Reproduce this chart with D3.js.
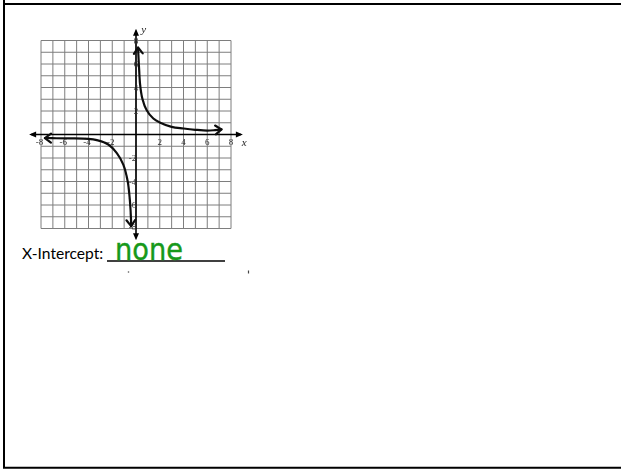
<!DOCTYPE html>
<html>
<head>
<meta charset="utf-8">
<script src="https://cdn.jsdelivr.net/npm/d3@7"></script>
<style>
  html, body { margin: 0; padding: 0; background: #fff; }
  svg { display: block; }
</style>
</head>
<body>
<svg id="chart" width="621" height="469"></svg>
<script>
// Grid extent and tick labels
const gridValues = [-8, -7, -6, -5, -4, -3, -2, -1, 0, 1, 2, 3, 4, 5, 6, 7, 8];
const xTickLabels = [-8, -6, -4, -2, 2, 4, 6, 8];
const yTickLabels = [-8, -6, -4, -2, 2, 4, 6, 8];

// Branch in quadrant I (from the top arrow down to the right arrow)
const rightX = [0.17, 0.2, 0.26, 0.35, 0.53, 0.9, 1.46, 2.0, 3.0, 4.0, 5.0, 6.0, 6.66, 7.2];
const rightY = [7.4, 6.8, 5.6, 4.2, 3.07, 2.07, 1.36, 1.02, 0.65, 0.51, 0.4, 0.33, 0.37, 0.43];

// Branch in quadrant III (from the left arrow down to the bottom arrow)
const leftX = [-7.67, -6.7, -5.56, -4.0, -3.3, -2.33, -1.63, -1.07, -0.7, -0.51, -0.42, -0.41];
const leftY = [-0.3, -0.32, -0.33, -0.37, -0.48, -0.85, -1.56, -2.56, -3.98, -5.68, -7.24, -7.8];

const answerLabel = "X-Intercept:";
const answerText = "none";

const svg = d3.select("#chart");

// Page frame
svg.append("path")
  .attr("d", "M4,0 V467.7 H640 M4,4 H640")
  .attr("fill", "none")
  .attr("stroke", "#000")
  .attr("stroke-width", 2);

const x = d3.scaleLinear().domain([-8, 8]).range([41, 231]);
const y = d3.scaleLinear().domain([-8, 8]).range([228.5, 40.5]);

const defs = svg.append("defs");
defs.append("filter").attr("id", "soft")
  .append("feGaussianBlur").attr("stdDeviation", 0.4);

const g = svg.append("g").attr("filter", "url(#soft)");

// Grid
g.append("g").selectAll("line.v").data(gridValues).join("line")
  .attr("x1", d => x(d)).attr("x2", d => x(d))
  .attr("y1", y(8)).attr("y2", y(-8))
  .attr("stroke", "#7e7e7e").attr("stroke-width", 1);
g.append("g").selectAll("line.h").data(gridValues).join("line")
  .attr("x1", x(-8)).attr("x2", x(8))
  .attr("y1", d => y(d)).attr("y2", d => y(d))
  .attr("stroke", "#7e7e7e").attr("stroke-width", 1);

// Axes with filled arrowheads at both ends
const axisEnd = 9;
function axisArrow(tx, ty, dx, dy) {
  const len = 7, half = 3;
  const px = -dy, py = dx;
  const bx = tx - dx * len, by = ty - dy * len;
  return `M${tx},${ty} L${bx + px * half},${by + py * half} L${bx - px * half},${by - py * half} Z`;
}
g.append("line")
  .attr("x1", x(-axisEnd) + 2).attr("x2", x(axisEnd) - 2)
  .attr("y1", y(0)).attr("y2", y(0))
  .attr("stroke", "#000").attr("stroke-width", 1.6);
g.append("line")
  .attr("x1", x(0)).attr("x2", x(0))
  .attr("y1", y(axisEnd) + 2).attr("y2", y(-axisEnd) - 2)
  .attr("stroke", "#000").attr("stroke-width", 1.6);
g.append("path").attr("d",
  axisArrow(x(-axisEnd), y(0), -1, 0) +
  axisArrow(x(axisEnd), y(0), 1, 0) +
  axisArrow(x(0), y(axisEnd), 0, -1) +
  axisArrow(x(0), y(-axisEnd), 0, 1))
  .attr("fill", "#000");

// Tick labels
g.append("g").selectAll("text").data(xTickLabels).join("text")
  .attr("x", d => x(d) + (d < 0 ? -1.5 : 0))
  .attr("y", y(0) + 10)
  .attr("text-anchor", "middle")
  .attr("font-family", "Liberation Serif, serif")
  .attr("font-size", 9)
  .attr("fill", "#333")
  .text(d => d);
g.append("g").selectAll("text").data(yTickLabels).join("text")
  .attr("x", d => x(0) + (d < 0 ? -3.5 : 0))
  .attr("y", d => y(d) + (d === -8 ? 1 : 3))
  .attr("text-anchor", "middle")
  .attr("font-family", "Liberation Serif, serif")
  .attr("font-size", 9)
  .attr("fill", "#333")
  .text(d => d);
g.append("text")
  .attr("x", x(8.9)).attr("y", y(0) + 11)
  .attr("font-family", "Liberation Serif, serif")
  .attr("font-style", "italic").attr("font-size", 11)
  .attr("fill", "#222").text("x");
g.append("text")
  .attr("x", x(0.45)).attr("y", y(8.6))
  .attr("font-family", "Liberation Serif, serif")
  .attr("font-style", "italic").attr("font-size", 11)
  .attr("fill", "#222").text("y");

// Curve branches with open arrowheads at their ends
const line = d3.line()
  .x(d => x(d[0])).y(d => y(d[1]))
  .curve(d3.curveCatmullRom.alpha(0.5));

function chevron(pts, atEnd) {
  const a = atEnd ? pts[pts.length - 1] : pts[0];
  const b = atEnd ? pts[pts.length - 3] : pts[2];
  const ax = x(a[0]), ay = y(a[1]), bx = x(b[0]), by = y(b[1]);
  const ang = Math.atan2(ay - by, ax - bx);
  const len = 7.5, spread = Math.PI / 5;
  const p1 = [ax - len * Math.cos(ang - spread), ay - len * Math.sin(ang - spread)];
  const p2 = [ax - len * Math.cos(ang + spread), ay - len * Math.sin(ang + spread)];
  return `M${p1[0]},${p1[1]} L${ax},${ay} L${p2[0]},${p2[1]}`;
}

[[rightX, rightY], [leftX, leftY]].forEach(([xs, ys]) => {
  const pts = xs.map((v, i) => [v, ys[i]]);
  g.append("path")
    .attr("d", line(pts))
    .attr("fill", "none").attr("stroke", "#111")
    .attr("stroke-width", 2.2).attr("stroke-linecap", "round");
  g.append("path")
    .attr("d", chevron(pts, false) + chevron(pts, true))
    .attr("fill", "none").attr("stroke", "#111")
    .attr("stroke-width", 2.2).attr("stroke-linecap", "round")
    .attr("stroke-linejoin", "round");
});

// Answer line
svg.append("text")
  .attr("x", 22).attr("y", 258.5)
  .attr("font-family", "Lato, Carlito, sans-serif")
  .attr("font-size", 15.6)
  .attr("fill", "#000")
  .text(answerLabel);
svg.append("line")
  .attr("x1", 107).attr("x2", 225)
  .attr("y1", 261).attr("y2", 261)
  .attr("stroke", "#000").attr("stroke-width", 1.5);
svg.append("text")
  .attr("x", 115).attr("y", 260)
  .attr("font-family", "DejaVu Sans, sans-serif")
  .attr("font-size", 31)
  .attr("textLength", 68)
  .attr("lengthAdjust", "spacingAndGlyphs")
  .attr("fill", "#17991a")
  .attr("stroke", "#17991a")
  .attr("stroke-width", 0.4)
  .text(answerText);

// Small specks below the answer line
svg.append("circle").attr("cx", 128.5).attr("cy", 272).attr("r", 0.8).attr("fill", "#555");
svg.append("line").attr("x1", 248.5).attr("x2", 248.5).attr("y1", 270.5).attr("y2", 273.5)
  .attr("stroke", "#444").attr("stroke-width", 1.2);
</script>
</body>
</html>
